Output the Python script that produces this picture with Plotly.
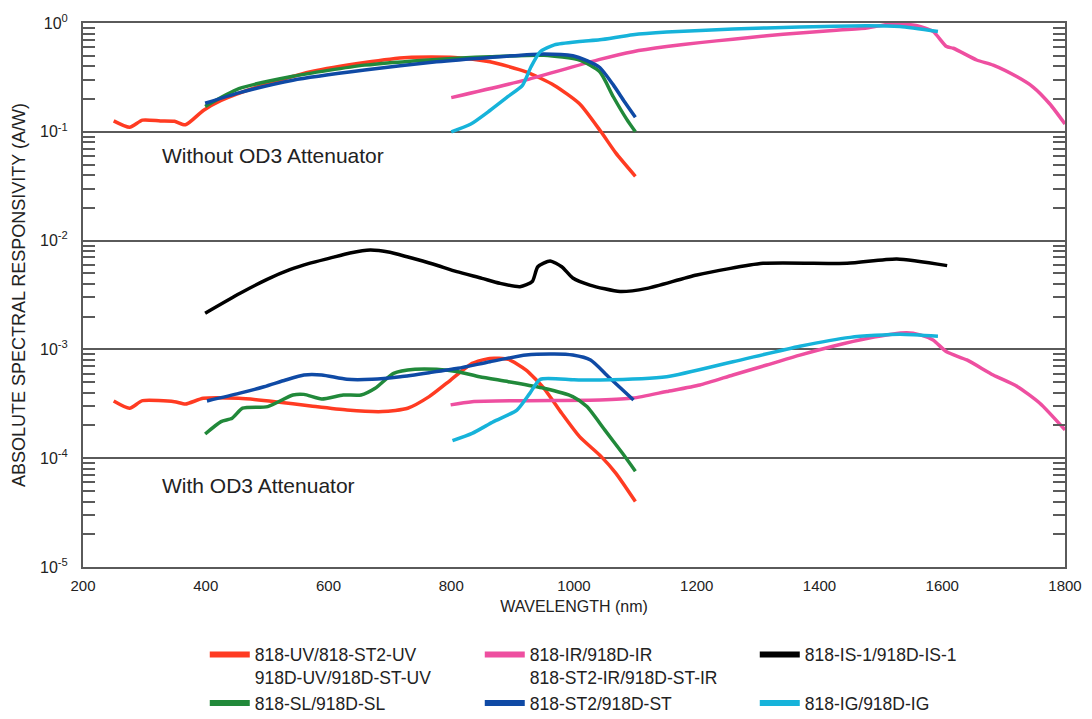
import math
import plotly.graph_objects as go

# ---------------- data ----------------
# Without OD3 attenuator
uv_nm = [250, 276, 297, 326, 349, 367, 396, 425, 484, 571, 659, 729, 805, 863, 922, 968, 1009, 1044, 1068, 1100]
uv_hi = [0.126, 0.110, 0.128, 0.126, 0.125, 0.116, 0.157, 0.194, 0.258, 0.356, 0.434, 0.483, 0.483, 0.44, 0.356, 0.267, 0.181, 0.100, 0.064, 0.039]

sl_nm = [399, 454, 542, 659, 776, 863, 951, 1009, 1042, 1064, 1086, 1100]
sl_hi = [0.171, 0.249, 0.324, 0.41, 0.463, 0.49, 0.505, 0.457, 0.356, 0.21, 0.13, 0.10]

st_nm = [399, 454, 542, 659, 776, 863, 951, 998, 1021, 1042, 1064, 1082, 1100]
st_hi = [0.183, 0.228, 0.298, 0.369, 0.44, 0.483, 0.52, 0.50, 0.45, 0.39, 0.27, 0.19, 0.136]

ig_nm = [800, 832, 863, 892, 916, 930, 945, 968, 1009, 1042, 1096, 1151, 1259, 1368, 1477, 1531, 1593]
ig_hi = [0.100, 0.118, 0.157, 0.21, 0.267, 0.396, 0.545, 0.63, 0.676, 0.70, 0.78, 0.825, 0.88, 0.918, 0.945, 0.93, 0.837]

ir_nm = [800, 922, 1042, 1096, 1151, 1205, 1259, 1314, 1368, 1422, 1477, 1520, 1559, 1585, 1607, 1618, 1656, 1683, 1722, 1748, 1775, 1800]
ir_hi = [0.206, 0.30, 0.463, 0.545, 0.607, 0.66, 0.71, 0.763, 0.81, 0.855, 0.90, 0.986, 0.945, 0.837, 0.607, 0.586, 0.457, 0.41, 0.32, 0.258, 0.181, 0.118]

# With OD3 attenuator
is_nm = [399, 456, 500, 537, 570, 602, 635, 668, 700, 728, 770, 809, 850, 879, 912, 932, 941, 961, 980, 998, 1026, 1075, 1119, 1200, 1308, 1445, 1526, 1608]
is_lo = [0.00215, 0.00328, 0.0044, 0.0054, 0.0062, 0.0069, 0.0077, 0.0082, 0.0078, 0.0071, 0.0061, 0.00518, 0.0045, 0.00405, 0.00377, 0.0042, 0.00575, 0.0065, 0.00575, 0.00453, 0.0039, 0.0034, 0.00364, 0.00483, 0.00618, 0.00618, 0.00678, 0.00589]

uv_lo_nm = [250, 276, 297, 349, 367, 396, 454, 513, 571, 630, 688, 729, 764, 799, 834, 863, 893, 922, 951, 980, 1009, 1044, 1068, 1100]
uv_lo = [3.36e-4, 2.88e-4, 3.38e-4, 3.31e-4, 3.15e-4, 3.55e-4, 3.55e-4, 3.31e-4, 3.02e-4, 2.77e-4, 2.68e-4, 2.88e-4, 3.68e-4, 5.23e-4, 7.44e-4, 8.27e-4, 8.09e-4, 6.46e-4, 4.39e-4, 2.59e-4, 1.58e-4, 1.04e-4, 7.3e-5, 4.0e-5]

sl_lo_nm = [399, 425, 443, 460, 501, 542, 560, 589, 624, 653, 676, 706, 741, 776, 811, 846, 893, 951, 998, 1021, 1050, 1079, 1100]
sl_lo = [1.67e-4, 2.17e-4, 2.33e-4, 2.88e-4, 2.98e-4, 3.81e-4, 3.86e-4, 3.50e-4, 3.81e-4, 3.81e-4, 4.39e-4, 6.02e-4, 6.56e-4, 6.56e-4, 6.24e-4, 5.61e-4, 5.05e-4, 4.39e-4, 3.68e-4, 2.98e-4, 1.82e-4, 1.11e-4, 7.6e-5]

st_lo_nm = [402, 454, 495, 530, 560, 589, 630, 671, 717, 764, 811, 863, 922, 968, 998, 1027, 1056, 1097]
st_lo = [3.36e-4, 3.94e-4, 4.54e-4, 5.23e-4, 5.82e-4, 5.82e-4, 5.31e-4, 5.31e-4, 5.61e-4, 6.11e-4, 6.70e-4, 7.70e-4, 8.87e-4, 9.06e-4, 8.87e-4, 7.98e-4, 5.61e-4, 3.43e-4]

ig_lo_nm = [802, 834, 869, 907, 928, 945, 1000, 1042, 1151, 1259, 1368, 1450, 1531, 1593]
ig_lo = [1.45e-4, 1.69e-4, 2.17e-4, 2.77e-4, 3.94e-4, 5.31e-4, 5.25e-4, 5.23e-4, 5.61e-4, 7.70e-4, 1.07e-3, 1.29e-3, 1.38e-3, 1.32e-3]

ir_lo_nm = [799, 834, 1042, 1096, 1151, 1205, 1259, 1314, 1368, 1422, 1477, 1542, 1564, 1585, 1607, 1640, 1683, 1722, 1759, 1800]
ir_lo = [3.09e-4, 3.31e-4, 3.43e-4, 3.57e-4, 4.10e-4, 4.71e-4, 5.82e-4, 7.18e-4, 8.87e-4, 1.07e-3, 1.26e-3, 1.42e-3, 1.36e-3, 1.22e-3, 9.5e-4, 8.0e-4, 5.82e-4, 4.57e-4, 3.20e-4, 1.82e-4]

series_names = [
    "818-UV/818-ST2-UV<br>918D-UV/918D-ST-UV",
    "818-IR/918D-IR<br>818-ST2-IR/918D-ST-IR",
    "818-IS-1/918D-IS-1",
    "818-SL/918D-SL",
    "818-ST2/918D-ST",
    "818-IG/918D-IG",
]
colors = ["#FF3B22", "#EE4FA0", "#000000", "#21893A", "#0F4AA5", "#16B3DA"]

decades = [-5, -4, -3, -2, -1, 0]
decade_labels = ["10<sup>%d</sup>" % d for d in decades]
x_ticks = [200, 400, 600, 800, 1000, 1200, 1400, 1600, 1800]
annotations_text = ["Without OD3 Attenuator", "With OD3 Attenuator"]
annotations_pos = [(325, 0.0612), (325, 5.67e-5)]

# ---------------- figure ----------------
fig = go.Figure()

groups = [
    (0, [(uv_nm, uv_hi), (uv_lo_nm, uv_lo)]),
    (1, [(ir_nm, ir_hi), (ir_lo_nm, ir_lo)]),
    (2, [(is_nm, is_lo)]),
    (3, [(sl_nm, sl_hi), (sl_lo_nm, sl_lo)]),
    (4, [(st_nm, st_hi), (st_lo_nm, st_lo)]),
    (5, [(ig_nm, ig_hi), (ig_lo_nm, ig_lo)]),
]

for idx, curves in groups:
    for xs, ys in curves:
        fig.add_trace(go.Scatter(
            x=xs, y=ys, mode="lines",
            line=dict(color=colors[idx], width=3.5, shape="spline", smoothing=0.6),
            name=series_names[idx], legendgroup=str(idx),
            showlegend=False, hoverinfo="skip",
        ))

# legend entries (thicker swatches, as in the reference key)
for idx in range(len(series_names)):
    fig.add_trace(go.Scatter(
        x=[None], y=[None], mode="lines",
        line=dict(color=colors[idx], width=6),
        name=series_names[idx], legendgroup=str(idx), showlegend=True,
    ))

minor_vals = [k * 10 ** d for d in decades[:-1] for k in range(2, 10)]

axis_color = "#5a5a5a"
font_family = "Liberation Sans, Arial, sans-serif"

fig.update_layout(
    width=1084, height=711,
    margin=dict(l=75, r=27, t=15, b=152, autoexpand=False),
    paper_bgcolor="white", plot_bgcolor="white",
    font=dict(family=font_family, size=15, color="#222"),
    showlegend=True,
    legend=dict(
        orientation="h", x=0.124, y=-0.128, xanchor="left", yanchor="top",
        entrywidth=220, entrywidthmode="pixels", valign="top",
        font=dict(size=17.5, color="#222"), itemwidth=40, traceorder="normal",
        bgcolor="rgba(0,0,0,0)",
    ),
    xaxis=dict(
        range=[200, 1800], tickmode="array", tickvals=x_ticks,
        showgrid=False, zeroline=False, automargin=False,
        showline=True, linecolor=axis_color, linewidth=2, mirror=True,
        ticks="outside", ticklen=4, tickcolor="rgba(0,0,0,0)",
        tickfont=dict(size=15, color="#222"),
        title=dict(text="WAVELENGTH (nm)", font=dict(size=16, color="#222"), standoff=8),
    ),
    yaxis=dict(
        type="log", range=[-5, 0], automargin=False,
        tickmode="array", tickvals=[10 ** d for d in decades], ticktext=decade_labels,
        showgrid=True, gridcolor=axis_color, gridwidth=2,
        zeroline=False,
        showline=True, linecolor=axis_color, linewidth=2, mirror="ticks",
        ticks="outside", ticklen=10, tickcolor="rgba(0,0,0,0)",
        tickfont=dict(size=16, color="#222"),
        minor=dict(tickmode="array", tickvals=minor_vals, ticks="inside",
                   ticklen=12, tickcolor=axis_color, tickwidth=1.5, showgrid=False),
        title=dict(text="ABSOLUTE SPECTRAL RESPONSIVITY (A/W)",
                   font=dict(size=18, color="#222"), standoff=10),
    ),
)

for txt, (ax, ay) in zip(annotations_text, annotations_pos):
    fig.add_annotation(x=ax, y=math.log10(ay), xref="x", yref="y", text=txt, showarrow=False,
                       xanchor="left", yanchor="middle",
                       font=dict(size=21, color="#222", family=font_family))

fig.write_html("out.html")
